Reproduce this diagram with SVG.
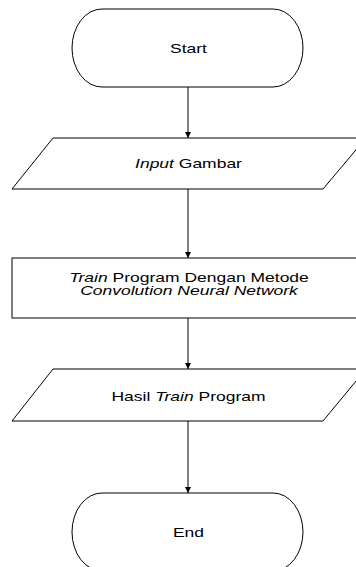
<svg xmlns="http://www.w3.org/2000/svg" width="356" height="567" viewBox="0 0 356 567">
<style>
.s{fill:#fff;stroke:#000;stroke-width:1}
.t{font-family:"Liberation Sans",Arial,sans-serif;font-size:12.5px;fill:#000;text-anchor:middle}
.c{stroke:#000;stroke-width:1;fill:none;marker-end:url(#a)}
</style>
<defs>
<marker id="a" markerWidth="7" markerHeight="7" refX="6" refY="3.5" orient="auto" markerUnits="userSpaceOnUse">
<path d="M0,0.5 L6,3.5 L0,6.5 Z" fill="#000"/>
</marker>
</defs>
<rect width="356" height="567" fill="#fff"/>
<g id="connectors">
<line class="c" x1="188" y1="87" x2="188" y2="138"/>
<line class="c" x1="188" y1="189" x2="188" y2="258"/>
<line class="c" x1="188" y1="318" x2="188" y2="369"/>
<line class="c" x1="188" y1="421" x2="188" y2="493"/>
</g>
<g id="start">
<rect class="s" x="72" y="9" width="231" height="78" rx="30" ry="39"/>
<text class="t" transform="translate(188.5,53) scale(1.4,1)">Start</text>
</g>
<g id="input">
<polygon class="s" points="53,138 366,138 323,189 12,189"/>
<text class="t" transform="translate(188.5,168) scale(1.4,1)"><tspan font-style="italic">Input</tspan> Gambar</text>
</g>
<g id="train">
<rect class="s" x="12" y="258" width="352" height="60"/>
<text class="t" transform="translate(189,282) scale(1.4,1)"><tspan font-style="italic">Train</tspan> Program Dengan Metode</text>
<text class="t" font-style="italic" transform="translate(189,294.5) scale(1.4,1)">Convolution Neural Network</text>
</g>
<g id="hasil">
<polygon class="s" points="53,369 366,369 323,421 12,421"/>
<text class="t" transform="translate(188.5,400.5) scale(1.4,1)">Hasil <tspan font-style="italic">Train</tspan> Program</text>
</g>
<g id="end">
<rect class="s" x="72" y="493" width="231" height="78" rx="30" ry="39"/>
<text class="t" transform="translate(188.5,536.5) scale(1.4,1)">End</text>
</g>
</svg>
